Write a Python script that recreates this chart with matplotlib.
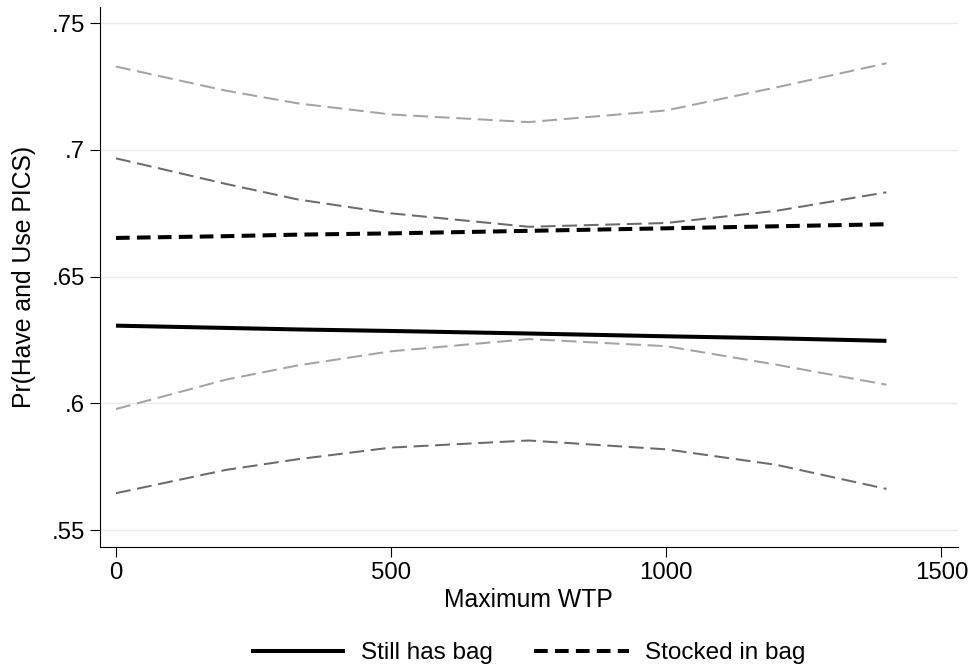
import matplotlib
matplotlib.use("Agg")
import matplotlib.pyplot as plt
from matplotlib.ticker import FuncFormatter

# values
wtp = [0, 200, 330, 500, 750, 1000, 1200, 1400]

still_mean = [0.6307, 0.6298, 0.6292, 0.6286, 0.6276, 0.6265, 0.6257, 0.6247]
still_lo   = [0.5646, 0.5738, 0.5780, 0.5826, 0.5854, 0.5819, 0.5758, 0.5663]
still_hi   = [0.6967, 0.6866, 0.6805, 0.6750, 0.6697, 0.6712, 0.6760, 0.6833]

stock_mean = [0.6653, 0.6660, 0.6666, 0.6671, 0.6681, 0.6691, 0.6699, 0.6707]
stock_lo   = [0.5978, 0.6094, 0.6150, 0.6206, 0.6254, 0.6226, 0.6153, 0.6074]
stock_hi   = [0.7329, 0.7234, 0.7184, 0.7140, 0.7110, 0.7156, 0.7247, 0.7342]

x_ticks = [0, 500, 1000, 1500]
y_ticks = [0.55, 0.60, 0.65, 0.70, 0.75]

LIGHT = "#a3a3a3"
DARK  = "#6b6b6b"
FS_TICK = 17.3
FS_TITLE = 17.8
FS_LEG = 17.5

plt.rcParams["font.family"] = ["Liberation Sans", "DejaVu Sans"]

fig = plt.figure(figsize=(9.74, 6.71), dpi=100)
ax = fig.add_axes([100 / 974, 1 - 546.7 / 671, 857.7 / 974, 539.7 / 671])

# confidence bands (dashed grey)
ci_style = dict(lw=1.45, linestyle=(0, (7.4, 3.3)), dash_capstyle="butt")
ax.plot(wtp, stock_hi, color=LIGHT, **ci_style)
ax.plot(wtp, stock_lo, color=LIGHT, **ci_style)
ax.plot(wtp, still_hi, color=DARK, **ci_style)
ax.plot(wtp, still_lo, color=DARK, **ci_style)

# predicted margins
h1, = ax.plot(wtp, still_mean, color="black", lw=2.9, solid_capstyle="butt",
              label="Still has bag")
h2, = ax.plot(wtp, stock_mean, color="black", lw=2.9, linestyle=(0, (3.4, 1.8)),
              dash_capstyle="butt", label="Stocked in bag")

ax.set_xlim(-29, 1529.5)
ax.set_ylim(0.5435, 0.7564)
ax.set_xticks(x_ticks)
ax.set_yticks(y_ticks)
ax.yaxis.set_major_formatter(FuncFormatter(lambda v, _: f"{v:g}".lstrip("0")))
ax.tick_params(axis="both", labelsize=FS_TICK, length=7, width=0.8, direction="out", pad=4)

ax.grid(axis="y", color="#eaeaea", lw=1.0)
ax.set_axisbelow(True)
for side in ("top", "right"):
    ax.spines[side].set_visible(False)
for side in ("left", "bottom"):
    ax.spines[side].set_linewidth(0.8)

ax.set_xlabel("Maximum WTP", fontsize=FS_TITLE, labelpad=3)
ax.set_ylabel("Pr(Have and Use PICS)", fontsize=FS_TITLE, labelpad=11)

fig.legend([h1, h2], ["Still has bag", "Stocked in bag"], loc="center",
           bbox_to_anchor=(528 / 974, 1 - 653 / 671), ncol=2, frameon=False,
           fontsize=FS_LEG, handlelength=3.9, handletextpad=0.65, columnspacing=1.7)

fig.savefig("out.png", dpi=100)
